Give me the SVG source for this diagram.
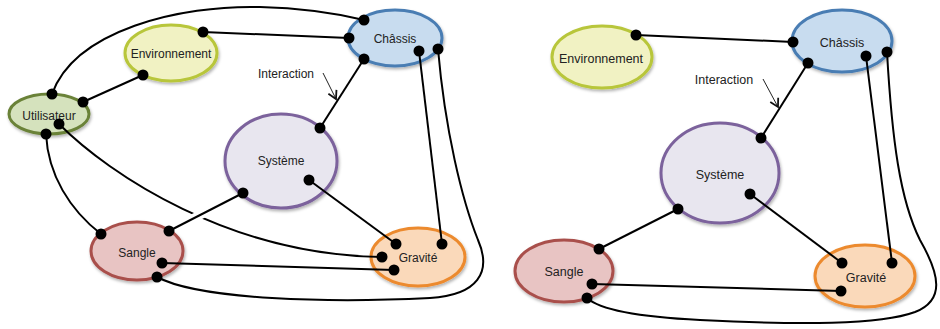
<svg xmlns="http://www.w3.org/2000/svg" width="940" height="329" viewBox="0 0 940 329">
<style>
.lbl{font-family:"Liberation Sans",Arial,sans-serif;font-size:12px;fill:#222;text-anchor:middle}
.lbl2{font-family:"Liberation Sans",Arial,sans-serif;font-size:12.5px;fill:#222;text-anchor:middle}
.n{stroke-width:3}
.c{fill:none;stroke:#000;stroke-width:2}
.d{fill:#000}
.ar{fill:none;stroke:#222;stroke-width:1}
.env{fill:#f1f2c3;stroke:#b8c63a}
.cha{fill:#c8dcef;stroke:#4a7db3}
.uti{fill:#d5e2bd;stroke:#6a8239}
.sys{fill:#e8e6ef;stroke:#7b629c}
.san{fill:#e8c4c3;stroke:#a9504c}
.gra{fill:#fad9ba;stroke:#ec8a2e}
</style>
<defs>
<filter id="sh" x="-20%" y="-20%" width="140%" height="150%">
<feDropShadow dx="1" dy="2" stdDeviation="1.5" flood-color="#000" flood-opacity="0.3"/>
</filter>
<marker id="v" markerUnits="userSpaceOnUse" markerWidth="12" markerHeight="12" refX="9" refY="6" orient="auto">
<path d="M1,1.5 L9,6 L1,10.5" fill="none" stroke="#111" stroke-width="1.8"/>
</marker>
</defs>

<!-- LEFT DIAGRAM -->
<g id="L-Environnement"><ellipse class="n env" filter="url(#sh)" cx="171" cy="53" rx="46" ry="28"/><text class="lbl" x="171" y="58">Environnement</text></g>
<g id="L-Chassis"><ellipse class="n cha" filter="url(#sh)" cx="395" cy="38" rx="47" ry="28"/><text class="lbl" x="395" y="43">Châssis</text></g>
<g id="L-Utilisateur"><ellipse class="n uti" filter="url(#sh)" cx="49" cy="114" rx="40" ry="20"/><text class="lbl" x="49" y="120">Utilisateur</text></g>
<g id="L-Systeme"><ellipse class="n sys" filter="url(#sh)" cx="281" cy="161" rx="56" ry="47"/><text class="lbl" x="281" y="165">Système</text></g>
<g id="L-Sangle"><ellipse class="n san" filter="url(#sh)" cx="137" cy="251" rx="46" ry="29"/><text class="lbl" x="137" y="257">Sangle</text></g>
<g id="L-Gravite"><ellipse class="n gra" filter="url(#sh)" cx="418" cy="257" rx="47" ry="29"/><text class="lbl" x="418" y="262">Gravité</text></g>

<!-- RIGHT DIAGRAM -->
<g id="R-Environnement"><ellipse class="n env" filter="url(#sh)" cx="602" cy="57" rx="50" ry="31"/><text class="lbl2" x="601" y="63">Environnement</text></g>
<g id="R-Chassis"><ellipse class="n cha" filter="url(#sh)" cx="842" cy="41" rx="50" ry="31"/><text class="lbl2" x="842" y="47">Châssis</text></g>
<g id="R-Systeme"><ellipse class="n sys" filter="url(#sh)" cx="720" cy="173" rx="59" ry="50"/><text class="lbl2" x="720" y="179">Système</text></g>
<g id="R-Sangle"><ellipse class="n san" filter="url(#sh)" cx="564" cy="271" rx="49" ry="31"/><text class="lbl2" x="564" y="276">Sangle</text></g>
<g id="R-Gravite"><ellipse class="n gra" filter="url(#sh)" cx="865" cy="276" rx="50" ry="31"/><text class="lbl2" x="866" y="282">Gravité</text></g>

<g id="connectors">
<!-- left -->
<path class="c" d="M52,94 C75,30 180,5 260,7 C300,8 335,13 364,20"/>
<path class="c" d="M203,32 L349,38"/>
<path class="c" d="M83,102 L143,75"/>
<path class="c" d="M364,59 L320,128"/>
<path class="c" d="M46,134 C48,175 70,210 101,234"/>
<path class="c" d="M59,124 C110,175 230,255 382,257"/>
<path d="M209,210.4 L191,219.6" stroke="#fff" stroke-width="9" fill="none"/>
<path class="c" d="M243,193 L169,231"/>
<path class="c" d="M309,180 L396,244"/>
<path class="c" d="M162,263 L394,270"/>
<path class="c" d="M419,51 L442,244"/>
<path class="c" d="M438,49 C445,130 462,200 478,240 C492,272 478,295 430,298 C330,303 200,300 157,277"/>
<path class="ar" d="M323,73 L336,99" marker-end="url(#v)"/>
<!-- right -->
<path class="c" d="M636,35 L793,42"/>
<path class="c" d="M808,63 L761,138"/>
<path class="c" d="M678,209 L599,249"/>
<path class="c" d="M750,194 L842,263"/>
<path class="c" d="M592,284 L841,291"/>
<path class="c" d="M866,56 L892,263"/>
<path class="c" d="M887,52 C892,140 900,200 920,240 C940,275 945,300 915,312 C880,325 800,325 700,320 C640,317 600,310 587,298"/>
<path class="ar" d="M763,79 L778,107" marker-end="url(#v)"/>
</g>

<g id="dots">
<circle class="d" cx="364" cy="20" r="5.5"/>
<circle class="d" cx="349" cy="38" r="5.5"/>
<circle class="d" cx="364" cy="59" r="5.5"/>
<circle class="d" cx="419" cy="51" r="5.5"/>
<circle class="d" cx="438" cy="49" r="5.5"/>
<circle class="d" cx="203" cy="32" r="5.5"/>
<circle class="d" cx="143" cy="75" r="5.5"/>
<circle class="d" cx="52" cy="94" r="5.5"/>
<circle class="d" cx="83" cy="102" r="5.5"/>
<circle class="d" cx="59" cy="124" r="5.5"/>
<circle class="d" cx="46" cy="134" r="5.5"/>
<circle class="d" cx="320" cy="128" r="5.5"/>
<circle class="d" cx="309" cy="180" r="5.5"/>
<circle class="d" cx="243" cy="193" r="5.5"/>
<circle class="d" cx="101" cy="234" r="5.5"/>
<circle class="d" cx="169" cy="231" r="5.5"/>
<circle class="d" cx="162" cy="263" r="5.5"/>
<circle class="d" cx="157" cy="277" r="5.5"/>
<circle class="d" cx="396" cy="244" r="5.5"/>
<circle class="d" cx="442" cy="244" r="5.5"/>
<circle class="d" cx="382" cy="257" r="5.5"/>
<circle class="d" cx="394" cy="270" r="5.5"/>
<circle class="d" cx="636" cy="35" r="5.5"/>
<circle class="d" cx="793" cy="42" r="5.5"/>
<circle class="d" cx="808" cy="63" r="5.5"/>
<circle class="d" cx="866" cy="56" r="5.5"/>
<circle class="d" cx="887" cy="52" r="5.5"/>
<circle class="d" cx="761" cy="138" r="5.5"/>
<circle class="d" cx="750" cy="194" r="5.5"/>
<circle class="d" cx="678" cy="209" r="5.5"/>
<circle class="d" cx="599" cy="249" r="5.5"/>
<circle class="d" cx="592" cy="284" r="5.5"/>
<circle class="d" cx="587" cy="298" r="5.5"/>
<circle class="d" cx="842" cy="263" r="5.5"/>
<circle class="d" cx="892" cy="263" r="5.5"/>
<circle class="d" cx="841" cy="291" r="5.5"/>
</g>

<text class="lbl" x="286" y="78">Interaction</text>
<text class="lbl2" x="724" y="84">Interaction</text>
</svg>
